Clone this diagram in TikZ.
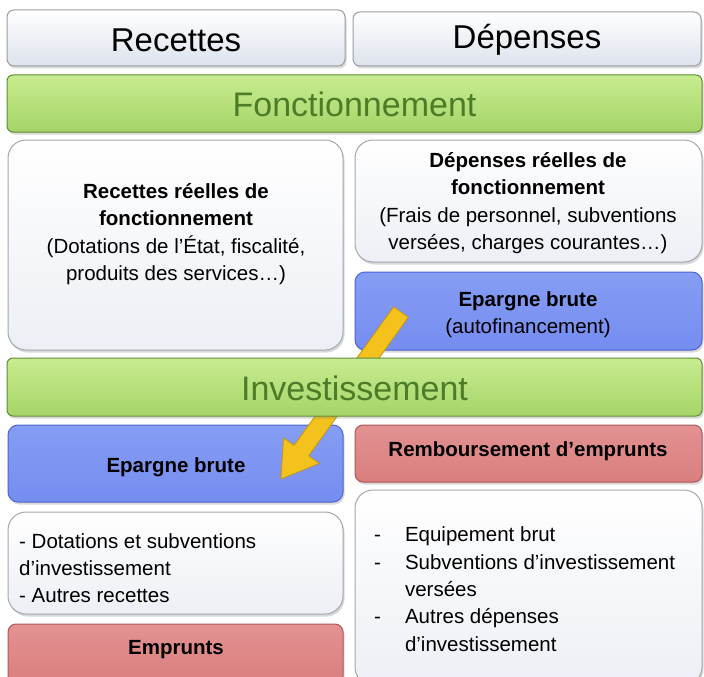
\documentclass[tikz,border=0pt]{standalone}
\usepackage{fontspec}
\setmainfont{Liberation Sans}
\usetikzlibrary{calc,shadows,positioning}
\definecolor{hdrbot}{HTML}{DDE2EC}
\definecolor{hdrdraw}{HTML}{9A9DA5}
\definecolor{grtop}{HTML}{C8EC90}
\definecolor{grbot}{HTML}{A6D468}
\definecolor{grdraw}{HTML}{5E8E33}
\definecolor{grtext}{HTML}{4C7C28}
\definecolor{wbot}{HTML}{ECEFF5}
\definecolor{wdraw}{HTML}{A4A7AE}
\definecolor{blfill}{HTML}{758DF0}
\definecolor{bltop}{HTML}{869DF4}
\definecolor{bldraw}{HTML}{4E64CE}
\definecolor{rdfill}{HTML}{DA7E7E}
\definecolor{rdtop}{HTML}{E39292}
\definecolor{rddraw}{HTML}{AE5858}
\definecolor{arfill}{HTML}{F3C21C}
\definecolor{ardraw}{HTML}{C5960E}
\tikzset{
  base/.style={anchor=north west, inner sep=0pt, outer sep=0pt, line width=1pt,
    drop shadow={shadow xshift=1.5pt, shadow yshift=-2.5pt, opacity=0.3}},
  hdrbox/.style={base, rounded corners=7pt, draw=hdrdraw, top color=white, bottom color=hdrbot},
  greenbar/.style={base, rounded corners=6pt, draw=grdraw, top color=grtop, bottom color=grbot},
  whitebox/.style={base, rounded corners=18pt, draw=wdraw, top color=white, bottom color=wbot},
  bluebox/.style={base, rounded corners=10pt, draw=bldraw, top color=bltop, bottom color=blfill},
  redbox/.style={base, rounded corners=8pt, draw=rddraw, top color=rdtop, bottom color=rdfill},
  titletxt/.style={font=\fontsize{33}{36}\selectfont, inner sep=0pt},
  bartxt/.style={font=\fontsize{34}{36}\selectfont, text=grtext, inner sep=0pt},
  bodytxt/.style={font=\fontsize{20.5}{27.3}\selectfont, align=center, inner sep=0pt},
}
\begin{document}
\begin{tikzpicture}[x=1pt,y=-1pt]
\useasboundingbox (0,0) rectangle (704,677);
% header row
\node[hdrbox, minimum width=338pt, minimum height=56pt] (recb) at (7,10) {};
\node[hdrbox, minimum width=348pt, minimum height=54pt] (depb) at (353,12) {};
\node[titletxt] (rect) at ($(recb.center)+(0,2)$) {Recettes};
\node[titletxt] (dept) at ($(depb.center)+(0,1)$) {Dépenses};
% fonctionnement
\node[greenbar, minimum width=695pt, minimum height=57pt] (fonb) at (7,75) {};
\node[bartxt] (font) at ($(fonb.center)+(0,1)$) {Fonctionnement};
\node[whitebox, minimum width=335pt, minimum height=210pt] (rrfb) at (8,140) {};
\node[whitebox, minimum width=347pt, minimum height=122pt] (drfb) at (355,140) {};
\node[bluebox, minimum width=347pt, minimum height=78pt] (ebab) at (355,272) {};
\node[bodytxt] (rrft) at (176,234) {\textbf{Recettes réelles de}\\\textbf{fonctionnement}\\(Dotations de l’État, fiscalité,\\produits des services…)};
\node[bodytxt] (drft) at (528,203) {\textbf{Dépenses réelles de}\\\textbf{fonctionnement}\\(Frais de personnel, subventions\\versées, charges courantes…)};
\node[bodytxt] (ebat) at (528,315) {\textbf{Epargne brute}\\(autofinancement)};
% investissement lower boxes
\node[bluebox, minimum width=335pt, minimum height=77pt] (eblb) at (8,425) {};
\node[bodytxt] (eblt) at (176,467) {\textbf{Epargne brute}};
\node[redbox, minimum width=347pt, minimum height=57pt] (remb) at (355,425) {};
\node[bodytxt] (remt) at (528,451) {\textbf{Remboursement d’emprunts}};
\node[whitebox, minimum width=335pt, minimum height=102pt] (dotb) at (8,512) {};
\node[bodytxt, align=left, anchor=west] (dott) at (19,568) {- Dotations et subventions\\d’investissement\\- Autres recettes};
\node[redbox, minimum width=335pt, minimum height=60pt] (empb) at (8,624) {};
\node[bodytxt] (empt) at (176,650) {\textbf{Emprunts}};
\node[whitebox, minimum width=347pt, minimum height=195pt] (eqb) at (355,490) {};
\node[bodytxt, align=left, anchor=west] (eqt) at (374,591) {%
\begin{tabular}{@{}l@{\hspace{24pt}}l@{}}
- & Equipement brut\\
- & Subventions d’investissement\\
  & versées\\
- & Autres dépenses\\
  & d’investissement
\end{tabular}};
% arrow (behind the Investissement bar)
\coordinate (arA) at (401,312);
\coordinate (arB) at (281,479);
\coordinate (arH) at ($(arB)!35pt!(arA)$);
\filldraw[fill=arfill, draw=ardraw, line width=0.8pt, line join=round]
  ($(arA)!9pt!90:(arB)$) -- ($(arH)!9pt!-90:(arA)$) -- ($(arH)!22pt!-90:(arA)$)
  -- (arB) -- ($(arH)!22pt!90:(arA)$) -- ($(arH)!9pt!90:(arA)$)
  -- ($(arA)!9pt!-90:(arB)$) -- cycle;
\node[greenbar, minimum width=695pt, minimum height=58pt] (invb) at (7,358) {};
\node[bartxt] (invt) at ($(invb.center)+(0,1)$) {Investissement};
\end{tikzpicture}
\end{document}
